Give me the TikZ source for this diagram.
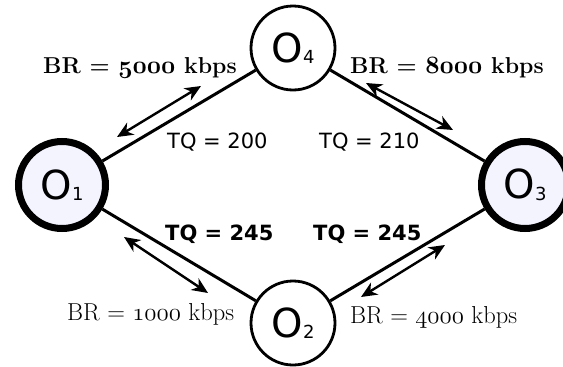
\documentclass[tikz,border=0pt]{standalone}
\usepackage{fontspec}
\usetikzlibrary{arrows.meta}
\newfontfamily\dvsans{DejaVu Sans}
\definecolor{lavender}{HTML}{F4F4FF}
\newcommand{\olabel}[1]{{\dvsans\fontsize{40}{40}\selectfont O\raisebox{-1.5pt}{\fontsize{18}{18}\selectfont #1}}}
\newcommand{\onum}[1]{{\usefont{OML}{cmm}{m}{it}#1}}
\newcommand{\bonum}[1]{{\usefont{OML}{cmm}{b}{it}#1}}
\newcommand{\brtext}[1]{\fontsize{24.5}{24.5}\selectfont BR = \onum{#1} kbps}
\newcommand{\brbold}[1]{\fontsize{23}{23}\selectfont\bfseries BR = \bonum{#1} kbps}
\newcommand{\tqtext}[1]{\dvsans\fontsize{21}{21}\selectfont TQ = #1}
\tikzset{
    site/.style={circle, draw, line width=2.8pt, fill=white, minimum size=84pt, inner sep=0pt},
    core/.style={circle, draw, line width=7pt, fill=lavender, minimum size=87pt, inner sep=0pt},
    link/.style={line width=3pt},
    flow/.style={{Stealth[length=16pt,width=14pt,inset=5pt]}-{Stealth[length=16pt,width=14pt,inset=5pt]}, line width=2.4pt},
    tag/.style={inner sep=0pt, anchor=base west}
}
\begin{document}
\begin{tikzpicture}[x=1pt,y=-1pt]
        \useasboundingbox (0,0) rectangle (563,367);
        \node[core] (o1) at (62,185) {\olabel{1}};
        \node[site] (o4) at (293,48) {\olabel{4}};
        \node[core] (o3) at (525,185) {\olabel{3}};
        \node[site] (o2) at (293,323) {\olabel{2}};
        \draw[link] (o1) -- (o4);
        \draw[link] (o4) -- (o3);
        \draw[link] (o1) -- (o2);
        \draw[link] (o2) -- (o3);
        % rate arrows beside the links
        \coordinate (f1a) at (117,137);
        \coordinate (f1b) at (201,86);
        \coordinate (f2a) at (366,83);
        \coordinate (f2b) at (453,130);
        \coordinate (f3a) at (124,237);
        \coordinate (f3b) at (208,293);
        \coordinate (f4a) at (445,245);
        \coordinate (f4b) at (361,297);
        \draw[flow] (f1a) -- (f1b);
        \draw[flow] (f2a) -- (f2b);
        \draw[flow] (f3a) -- (f3b);
        \draw[flow] (f4a) -- (f4b);
        % labels
        \node[tag] (br14) at (43,73) {\brbold{5000}};
        \node[tag] (br43) at (350,73) {\brbold{8000}};
        \node[tag] (br12) at (67,320) {\brtext{1000}};
        \node[tag] (br23) at (350,323) {\brtext{4000}};
        \node[tag] (tq14) at (167,148) {\tqtext{200}};
        \node[tag] (tq43) at (319,148) {\tqtext{210}};
        \node[tag] (tq12) at (165,240) {\bfseries\tqtext{245}};
        \node[tag] (tq23) at (313,240) {\bfseries\tqtext{245}};
    \end{tikzpicture}
\end{document}
